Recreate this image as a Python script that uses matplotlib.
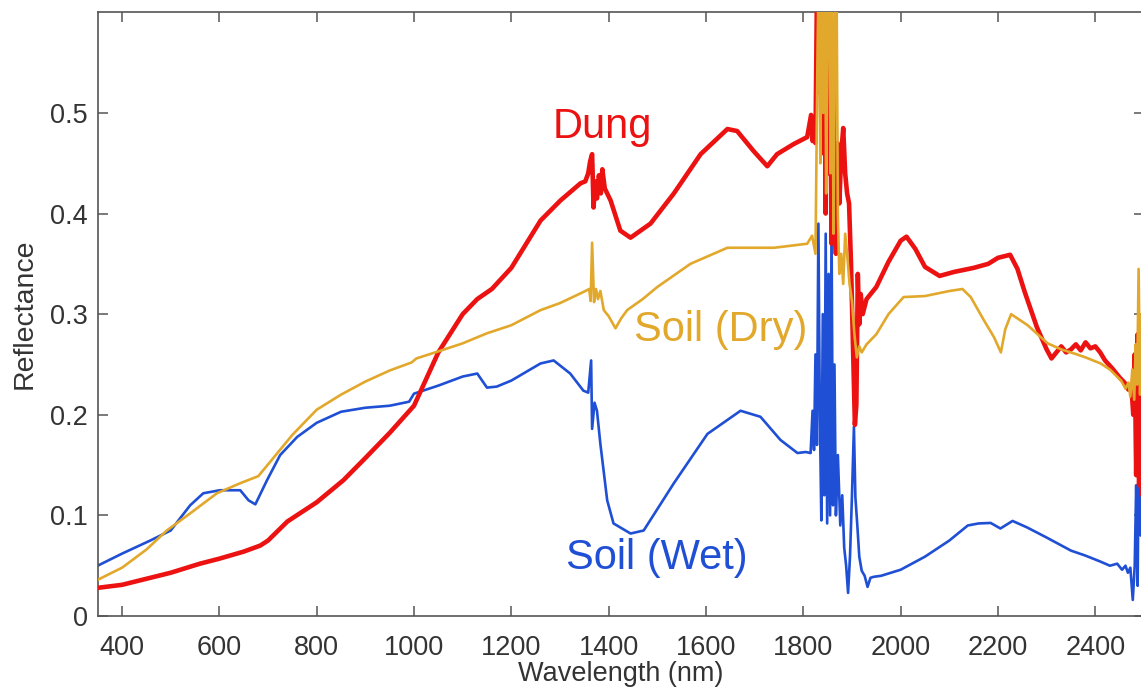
import matplotlib
matplotlib.use("Agg")
import matplotlib.pyplot as plt

RED = "#ec1212"
GOLD = "#e2a82c"
BLUE = "#1f4fd4"
AXC = "#555555"
TXT = "#333333"

plt.rcParams.update({
    "font.family": ["Liberation Sans", "DejaVu Sans"],
})

# Dung
wl_dung = [350, 400, 450, 500, 560, 600, 650, 684, 700, 740, 800, 855, 900, 950,
           1000, 1050, 1100, 1130, 1160, 1200, 1260, 1301, 1342, 1352, 1358, 1362,
           1366, 1369, 1372, 1376, 1380, 1384, 1387, 1392, 1404, 1424, 1445,
           1486, 1534, 1589, 1644, 1664, 1698, 1726, 1746, 1780, 1808,
           1816, 1819, 1822, 1825, 1828, 1831, 1834, 1837, 1840, 1843, 1846, 1849,
           1852, 1855, 1858, 1861, 1864, 1867, 1870, 1874, 1878, 1882, 1886, 1890,
           1894, 1898, 1902, 1906, 1909, 1912, 1915, 1918, 1922, 1930, 1950, 1975,
           2000, 2012, 2030, 2050, 2080, 2110, 2150, 2180, 2200, 2225, 2240, 2255,
           2280, 2300, 2310, 2320, 2330, 2340, 2350, 2360, 2370, 2380, 2390, 2400,
           2410, 2420, 2435, 2450, 2460, 2468, 2474, 2478, 2481, 2484, 2487, 2490,
           2493, 2496, 2499]
r_dung = [0.028, 0.031, 0.037, 0.043, 0.052, 0.057, 0.064, 0.070, 0.075, 0.094,
          0.113, 0.135, 0.157, 0.182, 0.209, 0.262, 0.300, 0.315, 0.325, 0.346,
          0.393, 0.413, 0.430, 0.432, 0.440, 0.452, 0.459, 0.406, 0.432, 0.415,
          0.438, 0.420, 0.444, 0.425, 0.413, 0.383, 0.376,
          0.390, 0.420, 0.459, 0.484, 0.482, 0.462, 0.447, 0.459, 0.469, 0.476,
          0.498, 0.472, 0.485, 0.470, 0.620, 0.720, 0.520, 0.660, 0.460, 0.640,
          0.400, 0.610, 0.440, 0.680, 0.370, 0.560, 0.400, 0.360, 0.470, 0.410,
          0.460, 0.485, 0.440, 0.420, 0.410, 0.350, 0.270, 0.190, 0.210, 0.340,
          0.290, 0.320, 0.300, 0.315, 0.327, 0.352, 0.373, 0.377, 0.365, 0.347,
          0.338, 0.342, 0.346, 0.350, 0.356, 0.359, 0.345, 0.322, 0.287, 0.265,
          0.256, 0.262, 0.268, 0.262, 0.265, 0.270, 0.264, 0.272, 0.266, 0.268,
          0.262, 0.254, 0.246, 0.237, 0.232, 0.225, 0.230, 0.200, 0.260, 0.140,
          0.280, 0.130, 0.220, 0.120, 0.240]

# Soil (Dry)
wl_dry = [350, 400, 450, 492, 540, 595, 643, 680, 704, 750, 800, 850, 900, 950,
          995, 1005, 1050, 1100, 1150, 1200, 1260, 1300, 1348, 1360, 1363, 1366,
          1370, 1374, 1378, 1383, 1390, 1400, 1414, 1426, 1438, 1470,
          1500, 1568, 1644, 1740, 1808, 1818, 1825, 1829, 1832,
          1835, 1838, 1841, 1844, 1847, 1850, 1853, 1856, 1859, 1862, 1865, 1868,
          1871, 1874, 1878, 1882, 1886, 1890, 1895, 1900, 1905, 1910, 1915, 1920,
          1930, 1950, 1975, 2006, 2050, 2100, 2127, 2144, 2171, 2192, 2206, 2215,
          2227, 2261, 2302, 2330, 2356, 2380, 2411, 2430, 2453, 2462, 2468, 2472,
          2476, 2480, 2483, 2486, 2489, 2492, 2495, 2498]
r_dry = [0.036, 0.048, 0.066, 0.085, 0.102, 0.122, 0.132, 0.139, 0.153, 0.180,
         0.205, 0.220, 0.233, 0.244, 0.252, 0.256, 0.263, 0.271, 0.281, 0.289,
         0.304, 0.311, 0.322, 0.325, 0.313, 0.371, 0.312, 0.325, 0.315, 0.323,
         0.304, 0.298, 0.286, 0.296, 0.304, 0.315,
         0.327, 0.350, 0.366, 0.366, 0.370, 0.378, 0.360, 0.550, 0.660,
         0.450, 0.700, 0.500, 0.680, 0.420, 0.620, 0.660, 0.440, 0.700, 0.380,
         0.580, 0.660, 0.400, 0.340, 0.360, 0.330, 0.380, 0.360, 0.330, 0.313,
         0.280, 0.257, 0.268, 0.262, 0.270, 0.280, 0.300, 0.317, 0.318, 0.323,
         0.325, 0.317, 0.294, 0.277, 0.262, 0.285, 0.300, 0.289, 0.271, 0.265,
         0.261, 0.257, 0.251, 0.245, 0.234, 0.226, 0.232, 0.218, 0.245, 0.215,
         0.270, 0.230, 0.345, 0.220, 0.300, 0.240]

# Soil (Wet)
wl_wet = [350, 400, 458, 500, 540, 567, 601, 643, 660, 674, 688, 698, 725, 760,
          800, 850, 900, 950, 990, 1000, 1050, 1100, 1130, 1150, 1170, 1200, 1260,
          1287, 1321, 1348, 1358, 1364, 1366, 1371, 1376, 1383, 1397, 1410, 1445,
          1472, 1534, 1603, 1671, 1712, 1753, 1788, 1805, 1815, 1819, 1822, 1825,
          1828, 1831, 1834, 1837, 1840, 1843,
          1846, 1849, 1852, 1855, 1858, 1861, 1864, 1867, 1871, 1876, 1880, 1884,
          1888, 1892, 1896, 1900, 1904, 1907, 1911, 1915, 1920, 1926, 1932, 1938,
          1945, 1960, 1980, 2000, 2050, 2100, 2138, 2160, 2185, 2205, 2230, 2260,
          2300, 2350, 2380, 2411, 2430, 2445, 2455, 2462, 2467, 2472, 2477, 2481,
          2484, 2487, 2490, 2493, 2496, 2499]
r_wet = [0.050, 0.062, 0.075, 0.085, 0.110, 0.122, 0.125, 0.125, 0.115, 0.111,
         0.125, 0.135, 0.160, 0.178, 0.192, 0.203, 0.207, 0.209, 0.213, 0.221,
         0.229, 0.238, 0.241, 0.227, 0.228, 0.234, 0.251,
         0.254, 0.241, 0.224, 0.222, 0.254, 0.186, 0.212, 0.204, 0.171, 0.115,
         0.092, 0.082, 0.085, 0.132, 0.181, 0.204, 0.198, 0.175, 0.162, 0.163,
         0.162, 0.204, 0.165, 0.260, 0.170, 0.390, 0.200,
         0.095, 0.300, 0.120, 0.380, 0.092, 0.340, 0.100, 0.386, 0.110, 0.250,
         0.100, 0.160, 0.090, 0.120, 0.068, 0.050, 0.023, 0.060, 0.120, 0.188,
         0.118, 0.090, 0.059, 0.045, 0.040, 0.029, 0.038, 0.039, 0.040, 0.043,
         0.046, 0.059, 0.075, 0.090, 0.092, 0.0925, 0.087, 0.0945, 0.088, 0.078,
         0.065, 0.060, 0.054, 0.050, 0.052, 0.046, 0.050, 0.043, 0.048, 0.016,
         0.050, 0.130, 0.030, 0.220, 0.080, 0.140, 0.060]

x_ticks = [400, 600, 800, 1000, 1200, 1400, 1600, 1800, 2000, 2200, 2400]
y_ticks = [0, 0.1, 0.2, 0.3, 0.4, 0.5]
y_labels = ["0", "0.1", "0.2", "0.3", "0.4", "0.5"]

fig = plt.figure(figsize=(11.41, 6.91), dpi=100)
# right spine sits just past the image edge, as in the source
ax = fig.add_axes([0.0856, 0.1085, 0.917, 0.8737])

ax.plot(wl_wet, r_wet, color=BLUE, lw=1.9, zorder=2)
ax.plot(wl_dung, r_dung, color=RED, lw=3.3, zorder=3)
ax.plot(wl_dry, r_dry, color=GOLD, lw=1.9, zorder=4)

ax.text(1387, 0.486, "Dung", color=RED, fontsize=30, ha="center", va="center")
ax.text(1630, 0.284, "Soil (Dry)", color=GOLD, fontsize=30, ha="center", va="center")
ax.text(1498, 0.0575, "Soil (Wet)", color=BLUE, fontsize=30, ha="center", va="center")

ax.set_xlim(350, 2500)
ax.set_ylim(0, 0.6)
ax.set_xticks(x_ticks)
ax.set_yticks(y_ticks)
ax.set_yticklabels(y_labels)
ax.tick_params(direction="in", length=7.2, width=1.1, color=AXC,
               top=True, right=True, labelsize=19.5, labelcolor=TXT)
ax.tick_params(axis="x", pad=14)
ax.tick_params(axis="y", pad=7)
for s in ax.spines.values():
    s.set_color(AXC)
    s.set_linewidth(1.2)

ax.set_xlabel("Wavelength (nm)", fontsize=19.5, color=TXT)
ax.set_ylabel("Reflectance", fontsize=20.5, color=TXT)
ax.xaxis.set_label_coords(0.5, -0.074)
ax.yaxis.set_label_coords(-0.057, 0.5)

fig.savefig("out.png", dpi=100)
